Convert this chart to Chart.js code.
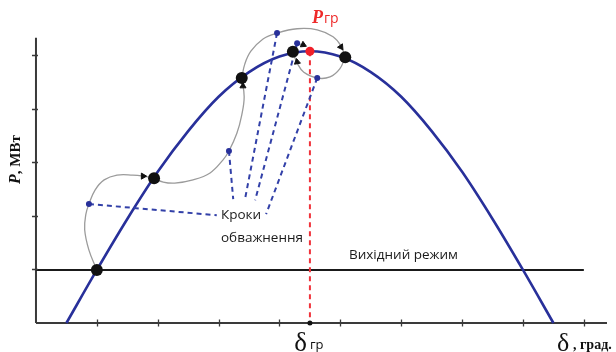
<!DOCTYPE html>
<html>
<head>
<meta charset="utf-8">
<script src="https://cdn.jsdelivr.net/npm/chart.js@4.4.1/dist/chart.umd.min.js"></script>
<style>
  html, body { margin: 0; padding: 0; background: #fff; }
  #chart { display: block; }
</style>
</head>
<body>
<canvas id="chart" width="616" height="352"></canvas>
<script>
// кутова характеристика P(δ)
const curveDelta = [0.5, 1, 1.5, 2, 2.5, 3, 3.5, 4, 4.5, 5, 5.5, 6, 6.5, 7, 7.5, 8, 8.5];
const curveP     = [0, 0.99, 1.94, 2.82, 3.58, 4.22, 4.68, 4.97, 5.07, 4.97, 4.68, 4.22, 3.58, 2.82, 1.94, 0.99, 0];

// усталені точки після кожного кроку
const stepDelta = [1.00, 1.94, 3.38, 4.22, 5.08];
const stepP     = [0.99, 2.70, 4.57, 5.06, 4.96];

// крайні точки коливань (сині)
const swingDelta = [0.87, 3.17, 3.96, 4.29, 4.62];
const swingP     = [2.22, 3.21, 5.41, 5.22, 4.57];

// куди сходяться пунктири підпису
const noteDelta = [2.97, 3.24, 3.43, 3.60, 3.78];
const noteP     = [2.01, 2.31, 2.29, 2.29, 2.03];

// граничний режим
const limitDelta = 4.50;
const limitP = 5.07;

// вихідний режим
const initialP = 0.99;
const initialEndDelta = 9.0;

// осі
const axisEndDelta = 9.38;
const axisEndP = 5.32;
const xTicks = [1, 2, 3, 4, 5, 6, 7, 8, 9];
const yTicks = [1, 2, 3, 4, 5];

// траєкторії коливань
const arcADelta = [1.00, 0.87, 0.80, 0.82, 0.87, 0.97, 1.12, 1.33, 1.59, 1.76, 1.94];
const arcAP     = [0.99, 1.36, 1.74, 2.03, 2.22, 2.48, 2.67, 2.76, 2.76, 2.74, 2.70];
const arcBDelta = [1.94, 2.09, 2.28, 2.58, 2.86, 3.07, 3.17, 3.30, 3.38, 3.42, 3.38];
const arcBP     = [2.70, 2.63, 2.61, 2.67, 2.80, 3.04, 3.21, 3.54, 3.88, 4.22, 4.57];
const arcCDelta = [3.38, 3.43, 3.53, 3.73, 3.96, 4.29, 4.62, 4.88, 5.01, 5.08];
const arcCP     = [4.57, 4.83, 5.07, 5.30, 5.41, 5.49, 5.47, 5.34, 5.17, 4.96];
const arcDDelta = [4.22, 4.29, 4.40, 4.62, 4.83, 4.99, 5.08];
const arcDP     = [5.06, 4.85, 4.68, 4.57, 4.59, 4.74, 4.96];
const arcEDelta = [4.29, 4.40];
const arcEP     = [5.22, 5.17];

// стрілки на траєкторіях
const arrowDelta = [1.76, 3.40, 5.01, 4.29, 4.39];
const arrowP     = [2.74, 4.42, 5.15, 4.87, 5.19];
const arrowAngle = [90, 0, 145, -10, 115];

const pts = (xs, ys) => xs.map((x, i) => ({ x: x, y: ys[i] }));

const arc = (xs, ys) => ({
  data: pts(xs, ys),
  showLine: true,
  borderColor: '#9b9b9b',
  borderWidth: 1.3,
  tension: 0.4,
  pointRadius: 0,
  order: 6
});

const datasets = [
  { // вихідний режим
    data: [{ x: 0, y: initialP }, { x: initialEndDelta, y: initialP }],
    showLine: true, borderColor: '#1a1a1a', borderWidth: 2, pointRadius: 0, order: 9
  },
  { // вісь δ
    data: [{ x: 0, y: 0 }, { x: axisEndDelta, y: 0 }],
    showLine: true, borderColor: '#3a3a3a', borderWidth: 2, pointRadius: 0, order: 9
  },
  { // вісь P
    data: [{ x: 0, y: 0 }, { x: 0, y: axisEndP }],
    showLine: true, borderColor: '#3a3a3a', borderWidth: 2, pointRadius: 0, order: 9
  },
  { // δ гр
    data: [{ x: limitDelta, y: limitP }, { x: limitDelta, y: 0 }],
    showLine: true, borderColor: '#f0323a', borderWidth: 2, borderDash: [5, 4],
    pointRadius: 0, order: 8
  },
  { // P(δ)
    data: pts(curveDelta, curveP),
    showLine: true, borderColor: '#28309a', borderWidth: 2.6,
    cubicInterpolationMode: 'monotone', pointRadius: 0, order: 7
  },
  arc(arcADelta, arcAP),
  arc(arcBDelta, arcBP),
  arc(arcCDelta, arcCP),
  arc(arcDDelta, arcDP),
  arc(arcEDelta, arcEP)
];

swingDelta.forEach((d, i) => {
  datasets.push({
    data: [{ x: d, y: swingP[i] }, { x: noteDelta[i], y: noteP[i] }],
    showLine: true, borderColor: '#3240a8', borderWidth: 2, borderDash: [5, 4],
    pointRadius: 0, order: 5
  });
});

datasets.push(
  { // сині точки
    data: pts(swingDelta, swingP),
    showLine: false, backgroundColor: '#28309a', borderWidth: 0, pointRadius: 3, order: 3
  },
  { // чорні точки
    data: pts(stepDelta, stepP),
    showLine: false, backgroundColor: '#111', borderWidth: 0, pointRadius: 6, order: 2
  },
  { // червона точка
    data: [{ x: limitDelta, y: limitP }, { x: limitDelta, y: 0 }],
    showLine: false, backgroundColor: ['#f0202a', '#111'], borderWidth: 0,
    pointRadius: [4.5, 2.5], order: 1
  },
  { // стрілки
    data: pts(arrowDelta, arrowP),
    showLine: false, pointStyle: 'triangle', rotation: arrowAngle,
    backgroundColor: '#111', borderColor: '#111', borderWidth: 1, pointRadius: 3.5, order: 0
  }
);

const decor = {
  id: 'decor',
  afterDatasetsDraw(chart) {
    const { ctx, scales: { x, y } } = chart;
    const x0 = x.getPixelForValue(0);
    const y0 = y.getPixelForValue(0);
    ctx.save();
    ctx.strokeStyle = '#3a3a3a';
    ctx.lineWidth = 1.3;
    ctx.beginPath();
    xTicks.forEach(v => {
      const px = Math.round(x.getPixelForValue(v)) + 0.5;
      ctx.moveTo(px, y0 - 3.5); ctx.lineTo(px, y0 + 3.5);
    });
    yTicks.forEach(v => {
      const py = Math.round(y.getPixelForValue(v)) + 0.5;
      ctx.moveTo(x0 - 4, py); ctx.lineTo(x0 + 2, py);
    });
    ctx.stroke();

    ctx.fillStyle = '#1a1a1a';
    ctx.textBaseline = 'middle';
    ctx.textAlign = 'left';
    ctx.font = '13.5px "Open Sans", sans-serif';
    ctx.fillText('Кроки', 221, 215);
    ctx.fillText('обважнення', 221, 238);
    ctx.fillText('Вихідний режим', 349, 255);

    // P гр
    const lx = x.getPixelForValue(limitDelta);
    ctx.fillStyle = '#ee2a2a';
    ctx.textBaseline = 'alphabetic';
    ctx.font = 'italic bold 18px "Liberation Serif", serif';
    ctx.fillText('P', lx + 2, 23);
    ctx.font = '14px "Open Sans", sans-serif';
    ctx.fillText('гр', lx + 14, 23);

    // δ гр
    ctx.fillStyle = '#111';
    ctx.font = '27px "Liberation Serif", serif';
    ctx.textAlign = 'right';
    ctx.fillText('δ', lx - 3, 351);
    ctx.textAlign = 'left';
    ctx.font = '13px "Open Sans", sans-serif';
    ctx.fillText('гр', lx, 349);

    // δ, град.
    ctx.font = '26px "Liberation Serif", serif';
    ctx.fillText('δ', 557, 351);
    ctx.font = 'bold 14px "Liberation Serif", serif';
    ctx.fillText(', град.', 573, 349);

    // P, МВт
    ctx.translate(20, 184);
    ctx.rotate(-Math.PI / 2);
    ctx.font = 'italic bold 16px "Liberation Serif", serif';
    ctx.fillText('P', 0, 0);
    const w = ctx.measureText('P').width;
    ctx.font = 'bold 15px "Liberation Serif", serif';
    ctx.fillText(', МВт', w, 0);
    ctx.restore();
  }
};

new Chart(document.getElementById('chart'), {
  type: 'scatter',
  data: { datasets: datasets },
  options: {
    responsive: false,
    animation: false,
    devicePixelRatio: 1,
    layout: { padding: 0, autoPadding: false },
    plugins: { legend: { display: false }, tooltip: { enabled: false } },
    scales: {
      x: { type: 'linear', display: false, min: -0.591, max: 9.528 },
      y: { type: 'linear', display: false, min: -0.541, max: 6.026 }
    }
  },
  plugins: [decor]
});
</script>
</body>
</html>
